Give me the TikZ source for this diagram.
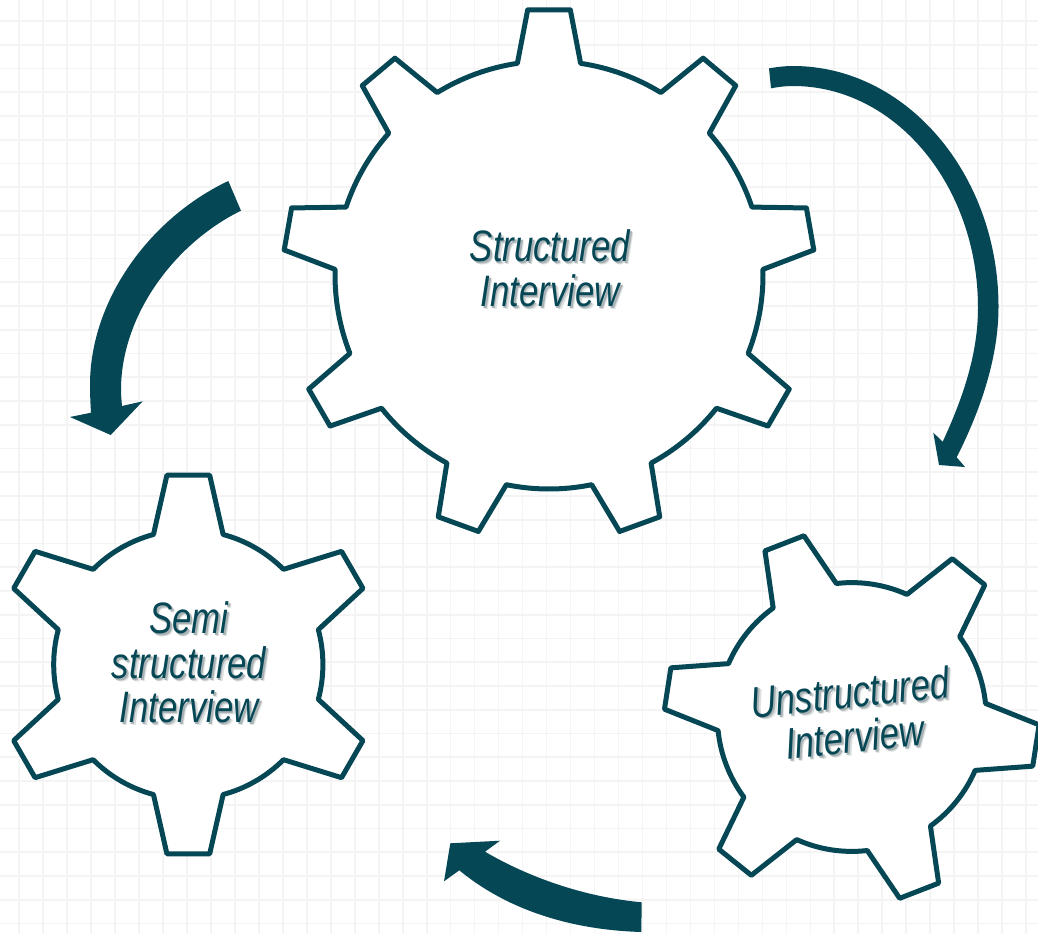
\documentclass[tikz,border=0pt]{standalone}
\usepackage{fontspec}
\newfontfamily\labfont[FakeStretch=0.79]{Liberation Sans}
\definecolor{teal1}{HTML}{064755}
\definecolor{gridc}{HTML}{F4F4F4}
\definecolor{sha}{HTML}{A9B3B6}
\definecolor{shb}{HTML}{DDE0E1}
\newcommand{\shtxt}[1]{\leavevmode\rlap{\color{shb}\kern3pt\lower3pt\hbox{#1}}\rlap{\color{sha}\kern1.8pt\lower1.8pt\hbox{#1}}#1}
% centre x, centre y (px), teeth-1, step, phase, root r, root half-angle, tip r, tip half-angle
\newcommand{\gearat}[9]{%
  \begin{scope}[shift={(#1,-#2)}]
    \draw[gearline] ({#5+#7}:#6)
      \foreach \k [evaluate=\k as \a using {#5-\k*#4}] in {0,...,#3} {
        -- ({\a+#9}:#8) -- ({\a-#9}:#8) -- ({\a-#7}:#6)
        arc[start angle={\a-#7}, end angle={\a-#4+#7}, radius=#6pt]
      } -- cycle;
  \end{scope}}
\tikzset{
  gearline/.style={draw=teal1, line width=5pt, fill=white, line join=round},
  gridline/.style={draw=gridc, line width=1.7pt},
  bigarrow/.style={fill=teal1, draw=none},
  gearlabel/.style={text=teal1, align=center, inner sep=0pt, font=\labfont\itshape\fontsize{44}{44.5}\selectfont}
}
\begin{document}
\begin{tikzpicture}[x=1pt,y=1pt]
\useasboundingbox (0,-934) rectangle (1038,0);
\fill[white] (0,-934) rectangle (1038,0);
% background grid
\foreach \k in {0,...,42} { \draw[gridline] ({19+\k*23.98},0) -- ({19+\k*23.98},-934); }
\foreach \k in {0,...,38} { \draw[gridline] (0,{-21-\k*23.75}) -- (1038,{-21-\k*23.75}); }
% gears
\gearat{549}{275}{8}{40}{90}{214}{8.5}{266}{4.6}
\gearat{188.3}{664.5}{5}{60}{90}{134.6}{15}{190.5}{6.45}
\gearat{851.8}{717}{5}{60}{51.2}{134.4}{14.6}{187.5}{6.4}
% arrows
\begin{scope}[y=-1pt]
\fill[bigarrow] (769,68.3) .. controls (777,67) and (785,66) .. (793,66)
  .. controls (906,66) and (998.5,174) .. (998.5,307)
  .. controls (998.5,360) and (979,413) .. (956.7,457.3)
  -- (965,467) -- (939,465) -- (933.3,432.7) -- (942.7,441.7)
  .. controls (962,400) and (978,355) .. (978,308)
  .. controls (978,185) and (895,86) .. (793,86)
  .. controls (785,86) and (778,87) .. (771,88.3) -- cycle;
\fill[bigarrow] (228.3,181) .. controls (150,218) and (90,300) .. (90,385)
  .. controls (90,395) and (90.5,404) .. (91,412.7)
  -- (70,417) -- (110.7,435) -- (142.7,401.3) -- (122,406)
  .. controls (121.5,400) and (121,395) .. (121,390)
  .. controls (121,315) and (175,243) .. (241,210.7) -- cycle;
\fill[bigarrow] (641.7,902.3) .. controls (585,897) and (530,878) .. (485,851.7)
  -- (500,840.7) -- (450.3,843.3) -- (444,881.3) -- (459.3,870.3)
  .. controls (510,912) and (575,930) .. (641.3,932) -- cycle;
\end{scope}
% labels
\node[gearlabel] (structured) at (550,-270) {\shtxt{Structured}\\\shtxt{Interview}};
\node[gearlabel] (semi) at (189,-664) {\shtxt{Semi}\\\shtxt{structured}\\\shtxt{Interview}};
\node[gearlabel, rotate=5.9] (unstructured) at (852.5,-716) {\shtxt{Unstructured}\\\shtxt{Interview}};
\end{tikzpicture}
\end{document}
